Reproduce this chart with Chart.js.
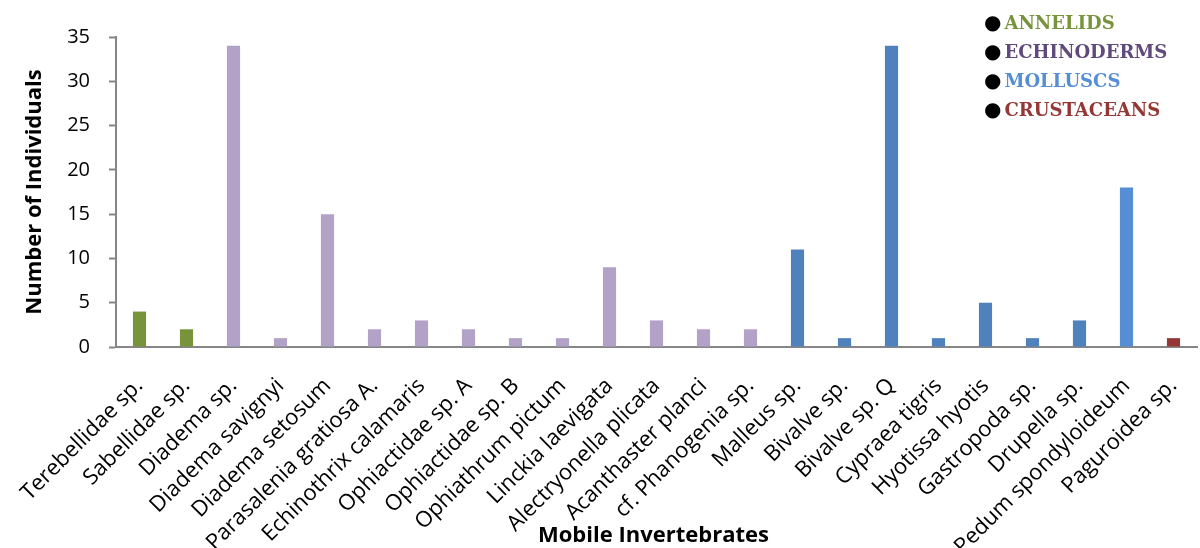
<!DOCTYPE html>
<html>
<head>
<meta charset="utf-8">
<script src="https://cdn.jsdelivr.net/npm/chart.js@4"></script>
<style>
  html, body { margin: 0; padding: 0; background: #fff; }
  #wrap { position: relative; width: 1200px; height: 548px; }
  #legend {
    position: absolute; left: 984px; top: 8px;
    font-family: "DejaVu Serif", "Liberation Serif", serif; font-weight: bold;
    font-size: 18px; line-height: 28px;
  }
  #legend span.dot { color: #000; margin-right: 3px; font-size: 20px; }
  #xTitle {
    position: absolute; left: 538px; top: 518px;
    font-family: "Open Sans", sans-serif; font-weight: bold; font-size: 22px; color: #000;
  }
</style>
</head>
<body>
<div id="wrap">
  <canvas id="chart" width="1200" height="548"></canvas>
  <div id="legend">
    <div><span class="dot">●</span><span style="color:#77933C">ANNELIDS</span></div>
    <div><span class="dot">●</span><span style="color:#604A7B">ECHINODERMS</span></div>
    <div><span class="dot">●</span><span style="color:#558ED5">MOLLUSCS</span></div>
    <div><span class="dot">●</span><span style="color:#953735">CRUSTACEANS</span></div>
  </div>
  <div id="xTitle">Mobile Invertebrates</div>
</div>
<script>
// Data
const species = [
    'Terebellidae sp.', 'Sabellidae sp.', 'Diadema sp.', 'Diadema savignyi', 'Diadema setosum',
    'Parasalenia gratiosa A.', 'Echinothrix calamaris', 'Ophiactidae sp. A', 'Ophiactidae sp. B',
    'Ophiathrum pictum', 'Linckia laevigata', 'Alectryonella plicata', 'Acanthaster planci',
    'cf. Phanogenia sp.', 'Malleus sp.', 'Bivalve sp.', 'Bivalve sp. Q', 'Cypraea tigris',
    'Hyotissa hyotis', 'Gastropoda sp.', 'Drupella sp.', 'Pedum spondyloideum', 'Paguroidea sp.'
];
const individuals = [4, 2, 34, 1, 15, 2, 3, 2, 1, 1, 9, 3, 2, 2, 11, 1, 34, 1, 5, 1, 3, 18, 1];
const groups = [
    'annelid', 'annelid', 'echino', 'echino', 'echino', 'echino', 'echino', 'echino', 'echino',
    'echino', 'echino', 'echino', 'echino', 'echino', 'mollusc', 'mollusc', 'mollusc', 'mollusc',
    'mollusc', 'mollusc', 'mollusc', 'mollusc2', 'crust'
];
const yTicks = [0, 5, 10, 15, 20, 25, 30, 35];

// Colours per group
const groupColors = {
    annelid: '#77933C',
    echino: '#B3A2C7',
    mollusc: '#4F81BD',
    mollusc2: '#558ED5',
    crust: '#953735'
};

const ctx = document.getElementById('chart').getContext('2d');
new Chart(ctx, {
    type: 'bar',
    data: {
        labels: species,
        datasets: [{
            data: individuals,
            backgroundColor: groups.map(g => groupColors[g]),
            barPercentage: 0.28,
            categoryPercentage: 1.0
        }]
    },
    options: {
        responsive: false,
        animation: false,
        layout: { padding: { top: 37, right: 3, left: 22, bottom: 0 } },
        plugins: {
            legend: { display: false },
            tooltip: { enabled: false }
        },
        scales: {
            x: {
                grid: { display: false, drawTicks: false },
                border: { color: '#868686', width: 2 },
                ticks: {
                    color: '#000',
                    font: { family: 'Open Sans', size: 22 },
                    minRotation: 45,
                    maxRotation: 45,
                    autoSkip: false,
                    padding: 26
                },
                afterFit: (scale) => {
                    scale.height = 201;
                    scale.paddingLeft = 0;
                    scale.paddingRight = 0;
                }
            },
            y: {
                min: 0,
                max: 35,
                afterBuildTicks: (scale) => { scale.ticks = yTicks.map(v => ({ value: v })); },
                grid: { display: true, drawOnChartArea: false, drawTicks: true, tickLength: 7, tickColor: '#868686', tickWidth: 2 },
                border: { color: '#868686', width: 2 },
                ticks: {
                    color: '#000',
                    font: { family: 'Open Sans', size: 20 },
                    padding: 19
                },
                title: {
                    display: true,
                    text: 'Number of Individuals',
                    color: '#000',
                    font: { family: 'Open Sans', size: 22, weight: 'bold' },
                    padding: { top: 0, bottom: 0 }
                },
                afterFit: (scale) => { scale.width = 94; }
            }
        }
    }
});
</script>
</body>
</html>
